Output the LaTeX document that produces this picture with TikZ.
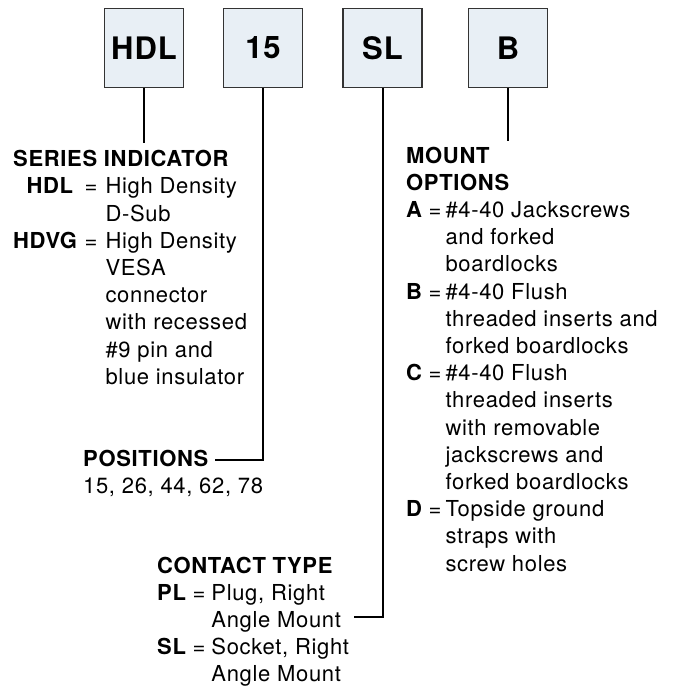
\documentclass[tikz,border=0pt]{standalone}
\usepackage{fontspec}
\setmainfont{TeX Gyre Heros}[LetterSpace=3]
\definecolor{boxfill}{RGB}{232,239,245}

\begin{document}
\begin{tikzpicture}[x=1pt, y=-1pt,
    codebox/.style={draw=black!80, line width=1.2pt, fill=boxfill, minimum size=79pt,
      inner sep=0pt, font=\fontsize{31}{36}\selectfont\bfseries},
    legend/.style={anchor=base west, inner sep=0pt, font=\fontsize{22}{27.2}\selectfont},
    link/.style={line width=2pt}]
    \useasboundingbox (0,0) rectangle (673,686);

    % part number boxes
    \node[codebox] (hdl) at (144,47.7) {HDL};
    \node[codebox] (pos) at (263,47.7) {15};
    \node[codebox] (ctype) at (382.5,47.7) {SL};
    \node[codebox] (mount) at (508,47.7) {B};

    % legends
    \node[legend] (series) at (13,166.7) {\begin{tabular}[t]{@{}r@{\hspace{7pt}}c@{\hspace{8pt}}l@{}}
        \multicolumn{3}{@{}l@{}}{\textbf{SERIES INDICATOR}}\\
        \textbf{HDL}\hspace{4pt} & = & High Density\\
        & & D-Sub\\
        \textbf{HDVG} & = & High Density\\
        & & VESA\\
        & & connector\\
        & & with recessed\\
        & & \#9 pin and\\
        & & blue insulator
      \end{tabular}};
    \node[legend] (poshead) at (83,466.7) {\textbf{POSITIONS}};
    \node[legend] (posvals) at (83,493.9) {15, 26, 44, 62, 78};
    \node[legend] (contact) at (157,573) {\begin{tabular}[t]{@{}l@{\hspace{6pt}}c@{\hspace{6pt}}l@{}}
        \multicolumn{3}{@{}l@{}}{\textbf{CONTACT TYPE}}\\
        \textbf{PL} & = & Plug, Right\\
        & & Angle Mount\\
        \textbf{SL} & = & Socket, Right\\
        & & Angle Mount
      \end{tabular}};
    \node[legend] (options) at (406,163) {\begin{tabular}[t]{@{}l@{\hspace{6pt}}c@{\hspace{4pt}}l@{}}
        \multicolumn{3}{@{}l@{}}{\textbf{MOUNT}}\\
        \multicolumn{3}{@{}l@{}}{\textbf{OPTIONS}}\\
        \textbf{A} & = & \#4-40 Jackscrews\\
        & & and forked\\
        & & boardlocks\\
        \textbf{B} & = & \#4-40 Flush\\
        & & threaded inserts and\\
        & & forked boardlocks\\
        \textbf{C} & = & \#4-40 Flush\\
        & & threaded inserts\\
        & & with removable\\
        & & jackscrews and\\
        & & forked boardlocks\\
        \textbf{D} & = & Topside ground\\
        & & straps with\\
        & & screw holes
      \end{tabular}};

    % connectors
    \coordinate (hdl-end) at (144,143);
    \coordinate (pos-end) at (215,459.5);
    \coordinate (ctype-end) at (354,617);
    \coordinate (mount-end) at (508,141);
    \draw[link] (hdl) -- (hdl-end);
    \draw[link] (pos) |- (pos-end);
    \draw[link] (ctype) |- (ctype-end);
    \draw[link] (mount) -- (mount-end);
\end{tikzpicture}
\end{document}
